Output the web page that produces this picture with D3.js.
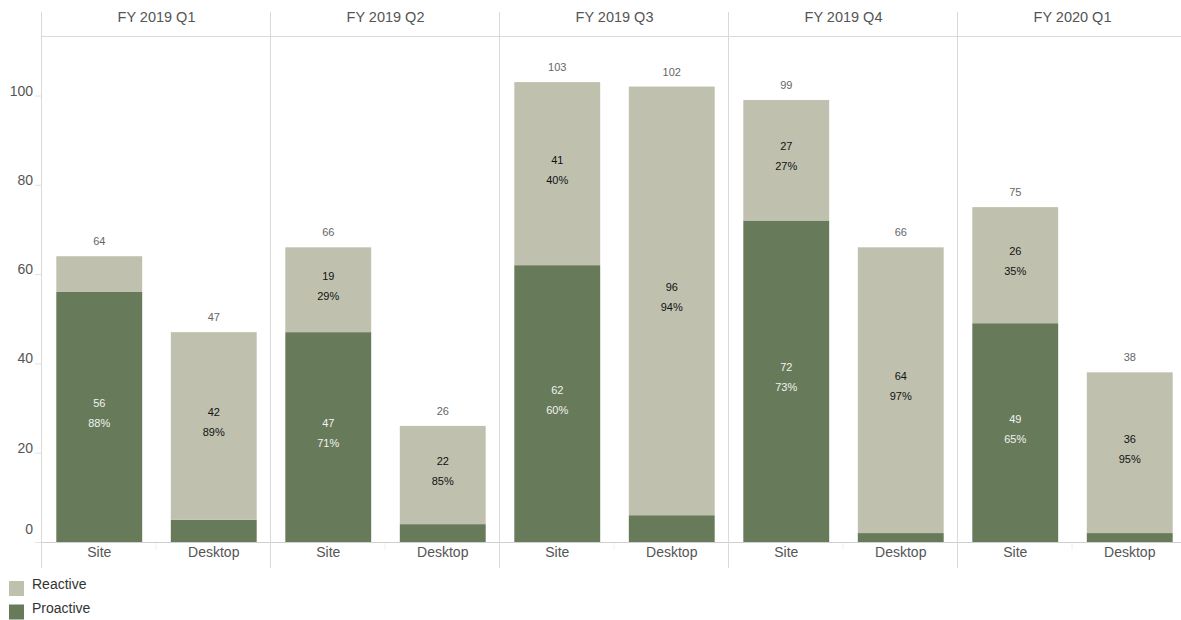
<!DOCTYPE html>
<html>
<head>
<meta charset="utf-8">
<script src="https://cdn.jsdelivr.net/npm/d3@7"></script>
<style>
  html, body { margin: 0; padding: 0; background: #fff; }
  svg { display: block; font-family: Arial, "Liberation Sans", sans-serif; }
</style>
</head>
<body>
<svg id="chart" width="1181" height="620"></svg>
<script>
// Quarters shown as facet columns, two channels per quarter
const quarters = ["FY 2019 Q1", "FY 2019 Q2", "FY 2019 Q3", "FY 2019 Q4", "FY 2020 Q1"];
const channels = ["Site", "Desktop"];

// Ticket counts per quarter, [Site, Desktop]
const proactive = [[56, 5], [47, 4], [62, 6], [72, 2], [49, 2]];
const reactive  = [[8, 42], [19, 22], [41, 96], [27, 64], [26, 36]];

const yTicks = [0, 20, 40, 60, 80, 100];
const seriesNames = ["Reactive", "Proactive"];
const colors = { Reactive: "#bfc1ae", Proactive: "#677a59" };

const svg = d3.select("#chart");
const W = 1181;
const plotLeft = 42, panelW = 229, plotTop = 12, headerBottom = 36.5, baseY = 542, axisBottom = 568;

const y = d3.scaleLinear().domain([0, 100]).range([baseY, 95.5]);
const fx = d3.scaleBand().domain(quarters).range([plotLeft, plotLeft + panelW * quarters.length]);
const x = d3.scaleBand().domain(channels).range([0, panelW]).paddingInner(0.25).paddingOuter(0.125);

// Build rows
const rows = [];
quarters.forEach((q, qi) => {
  channels.forEach((c, ci) => {
    const p = proactive[qi][ci], r = reactive[qi][ci];
    rows.push({ quarter: q, channel: c, Proactive: p, Reactive: r, total: p + r });
  });
});
const stack = d3.stack().keys(["Proactive", "Reactive"])(rows);

const grid = "#d9d9d9";

// Header rule and baseline
svg.append("line").attr("x1", plotLeft).attr("x2", W).attr("y1", headerBottom).attr("y2", headerBottom)
  .attr("stroke", grid).attr("stroke-width", 1);
svg.append("line").attr("x1", plotLeft).attr("x2", W).attr("y1", baseY + 0.5).attr("y2", baseY + 0.5)
  .attr("stroke", "#cfcfcf").attr("stroke-width", 1);

// Panel separators (including left axis line)
quarters.forEach(q => {
  svg.append("line").attr("x1", fx(q) - 0.5).attr("x2", fx(q) - 0.5)
    .attr("y1", plotTop).attr("y2", axisBottom).attr("stroke", grid).attr("stroke-width", 1);
});

// Facet headers
svg.append("g").selectAll("text").data(quarters).join("text")
  .attr("x", q => fx(q) + panelW / 2).attr("y", 17)
  .attr("text-anchor", "middle").attr("dominant-baseline", "central")
  .attr("font-size", 14.5).attr("fill", "#555").text(q => q);

// Y axis ticks and labels
const yAxis = svg.append("g");
yAxis.selectAll("line").data(yTicks).join("line")
  .attr("x1", 35).attr("x2", plotLeft - 1).attr("y1", d => y(d) + 0.5).attr("y2", d => y(d) + 0.5)
  .attr("stroke", "#e2e2e2");
yAxis.selectAll("text").data(yTicks).join("text")
  .attr("x", 33).attr("y", d => y(d) - (d === 0 ? 13 : 5))
  .attr("text-anchor", "end").attr("dominant-baseline", "central")
  .attr("font-size", 14).attr("fill", "#555").text(d => d);

// Bars
const bars = svg.append("g");
stack.forEach(layer => {
  const key = layer.key;
  bars.append("g").selectAll("rect").data(layer).join("rect")
    .attr("x", d => fx(d.data.quarter) + x(d.data.channel))
    .attr("width", x.bandwidth())
    .attr("y", d => y(d[1]))
    .attr("height", d => y(d[0]) - y(d[1]))
    .attr("fill", colors[key]);

  // Segment labels: count and share of total
  const big = layer.filter(d => d.data[key] >= 10);
  const txtColor = key === "Proactive" ? "#f2f2f2" : "#111";
  const lab = bars.append("g").selectAll("g").data(big).join("g")
    .attr("transform", d => `translate(${fx(d.data.quarter) + x(d.data.channel) + x.bandwidth() / 2},${(y(d[0]) + y(d[1])) / 2})`);
  lab.append("text").attr("y", -14).attr("text-anchor", "middle").attr("dominant-baseline", "central")
    .attr("font-size", 11).attr("fill", txtColor).text(d => d.data[key]);
  lab.append("text").attr("y", 6).attr("text-anchor", "middle").attr("dominant-baseline", "central")
    .attr("font-size", 11).attr("fill", txtColor)
    .text(d => Math.round(d.data[key] / d.data.total * 100) + "%");
});

// Totals above bars
svg.append("g").selectAll("text").data(rows).join("text")
  .attr("x", d => fx(d.quarter) + x(d.channel) + x.bandwidth() / 2)
  .attr("y", d => y(d.total) - 15)
  .attr("text-anchor", "middle").attr("dominant-baseline", "central")
  .attr("font-size", 11).attr("fill", "#666").text(d => d.total);

// Category labels and faint mid ticks
quarters.forEach(q => {
  svg.append("line").attr("x1", fx(q) + panelW / 2 - 0.5).attr("x2", fx(q) + panelW / 2 - 0.5)
    .attr("y1", baseY + 1).attr("y2", baseY + 8).attr("stroke", "#f0f0f0");
  svg.append("g").selectAll("text").data(channels).join("text")
    .attr("x", c => fx(q) + x(c) + x.bandwidth() / 2).attr("y", 552)
    .attr("text-anchor", "middle").attr("dominant-baseline", "central")
    .attr("font-size", 14).attr("fill", "#555").text(c => c);
});

// Legend
const legend = svg.append("g").selectAll("g").data(seriesNames).join("g")
  .attr("transform", (d, i) => `translate(9,${581 + i * 23.5})`);
legend.append("rect").attr("width", 15).attr("height", 15).attr("fill", d => colors[d]);
legend.append("text").attr("x", 23).attr("y", 3).attr("dominant-baseline", "central")
  .attr("font-size", 14).attr("fill", "#333").text(d => d);
</script>
</body>
</html>
